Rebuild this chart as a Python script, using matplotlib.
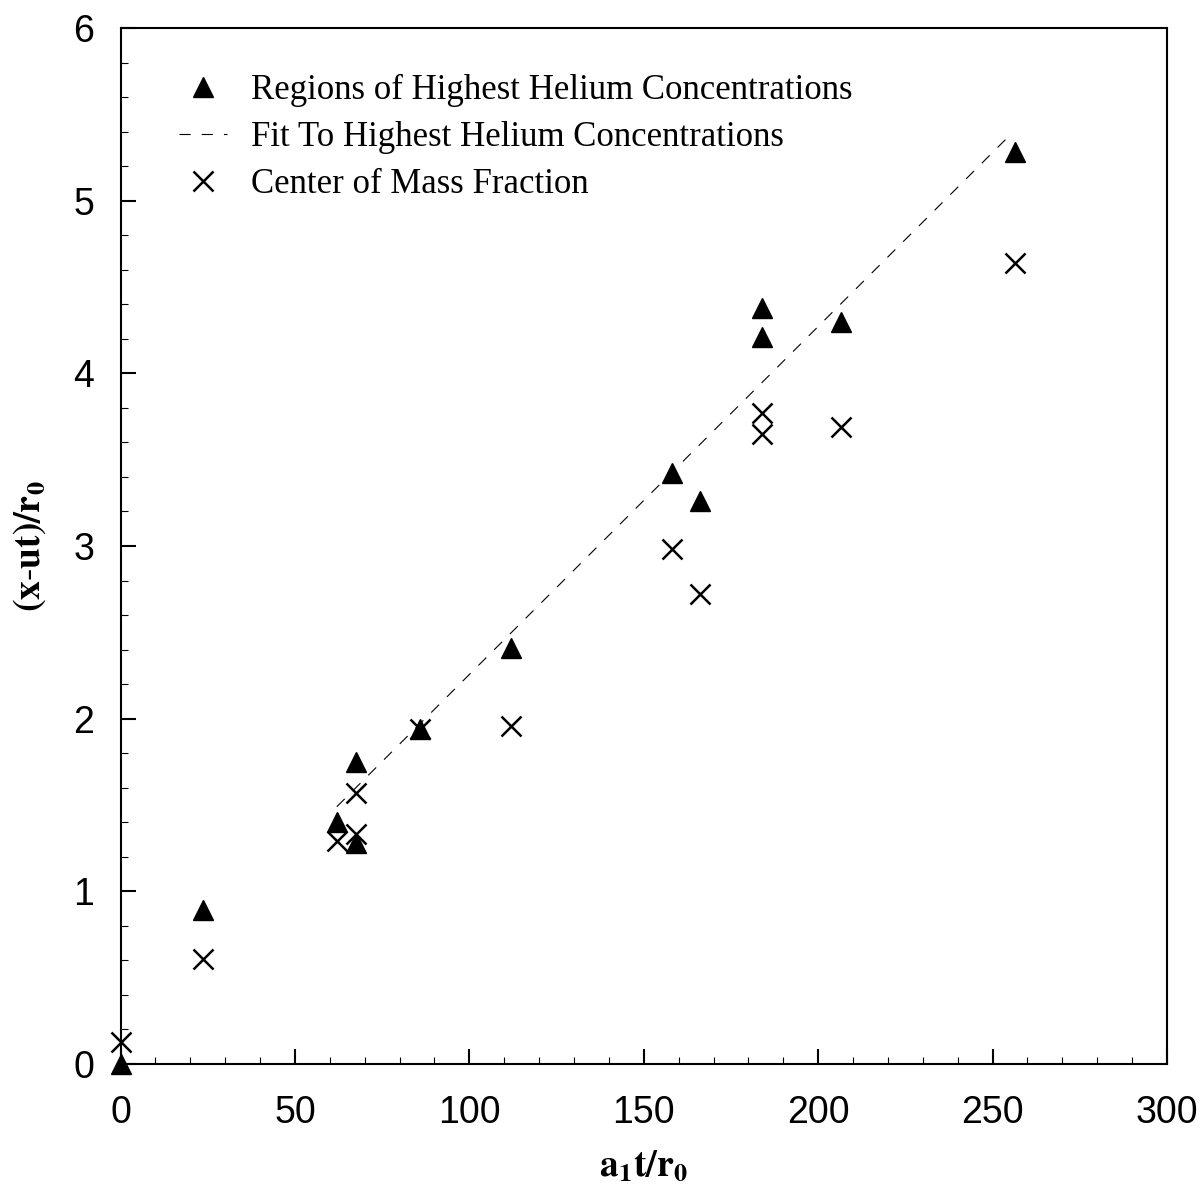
import numpy as np
import matplotlib
matplotlib.use("Agg")
import matplotlib.pyplot as plt
from matplotlib.ticker import MultipleLocator

# data
x_peak = [0, 23.6, 62.0, 67.5, 67.5, 85.9, 111.9, 158.1, 166.1, 184.0, 184.0, 206.4, 256.5]
y_peak = [0.0, 0.89, 1.40, 1.28, 1.75, 1.94, 2.41, 3.42, 3.26, 4.21, 4.38, 4.30, 5.28]

x_com = [0, 23.6, 62.0, 67.5, 67.5, 85.9, 111.9, 158.1, 166.1, 184.0, 184.0, 206.4, 256.5]
y_com = [0.13, 0.61, 1.29, 1.33, 1.57, 1.94, 1.96, 2.98, 2.72, 3.77, 3.65, 3.69, 4.64]

x_fit = [62.0, 255.0]
y_fit = [1.49, 5.38]

labels = ["Regions of Highest Helium Concentrations",
          "Fit To Highest Helium Concentrations",
          "Center of Mass Fraction"]

plt.rcParams['mathtext.fontset'] = 'stix'

fig = plt.figure(figsize=(12.02, 12.01), dpi=100)
ax = fig.add_axes([0.1003, 0.1141, 0.8706, 0.8626])

h1, = ax.plot(x_peak, y_peak, linestyle='none', marker='^', ms=14,
              color='black', clip_on=False, zorder=3)
h2, = ax.plot(x_fit, y_fit, color='black', lw=0.8, dashes=(10, 10))
h3, = ax.plot(x_com, y_com, linestyle='none', marker='x', ms=14, mew=1.8,
              color='black', clip_on=False, zorder=3)

ax.set_xlim(0, 300)
ax.set_ylim(0, 6)
ax.xaxis.set_major_locator(MultipleLocator(50))
ax.xaxis.set_minor_locator(MultipleLocator(10))
ax.yaxis.set_major_locator(MultipleLocator(1))
ax.yaxis.set_minor_locator(MultipleLocator(0.2))

ax.tick_params(which='both', direction='in', top=False, right=False)
ax.tick_params(which='major', length=11, width=1.5)
ax.tick_params(which='minor', length=5, width=0.8)
ax.tick_params(axis='x', which='major', pad=22)
ax.tick_params(axis='y', which='major', pad=19)
for lab in ax.get_xticklabels() + ax.get_yticklabels():
    lab.set_fontfamily('Liberation Sans')
    lab.set_fontsize(27)

for sp in ax.spines.values():
    sp.set_linewidth(1.5)

ax.set_xlabel(r'$\mathbf{a_1 t/r_0}$', fontsize=27, labelpad=12)
ax.set_ylabel(r'$\mathbf{(x\text{-}ut)/r_0}$', fontsize=27, labelpad=18)

leg = ax.legend([h1, h2, h3], labels, loc='upper left',
                bbox_to_anchor=(0.043, 0.969), frameon=False,
                prop={'family': 'Liberation Serif', 'size': 25},
                handlelength=1.38, handletextpad=0.69, labelspacing=0.40,
                borderaxespad=0)

fig.savefig("out.png", dpi=100)
